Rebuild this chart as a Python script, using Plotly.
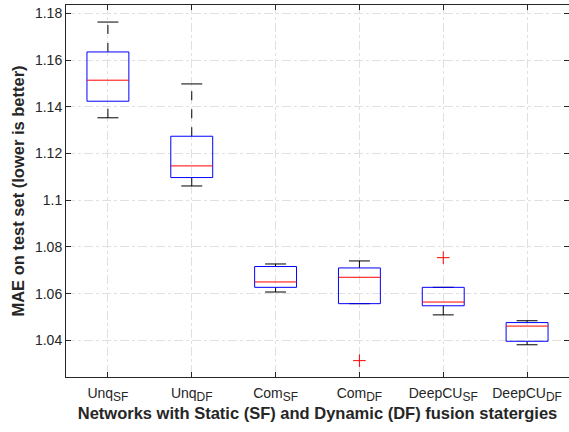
import plotly.graph_objects as go

categories = ["Unq", "Unq", "Com", "Com", "DeepCU", "DeepCU"]
subscripts = ["SF", "DF", "SF", "DF", "SF", "DF"]
lower_whisker = [1.1353, 1.1061, 1.0607, 1.0557, 1.0509, 1.0381]
q1 = [1.1424, 1.1097, 1.0627, 1.0557, 1.0548, 1.0396]
median = [1.1514, 1.1147, 1.0650, 1.0670, 1.0564, 1.0461]
q3 = [1.1635, 1.1274, 1.0716, 1.0710, 1.0627, 1.0476]
upper_whisker = [1.1763, 1.1498, 1.0727, 1.0740, 1.0627, 1.0484]
outlier_pos = [4, 5]
outlier_val = [1.0313, 1.0754]
y_ticks = [1.04, 1.06, 1.08, 1.1, 1.12, 1.14, 1.16, 1.18]
y_tick_labels = ["1.04", "1.06", "1.08", "1.1", "1.12", "1.14", "1.16", "1.18"]

box_half = 0.25
cap_half = 0.125
positions = list(range(1, len(categories) + 1))
tick_text = [f"{c}<sub><span style='font-size:12px'>{s}</span></sub>"
             for c, s in zip(categories, subscripts)]

fig = go.Figure()

# whiskers (dashed)
wx, wy = [], []
for p, lw, a, b, uw in zip(positions, lower_whisker, q1, q3, upper_whisker):
    if uw > b:
        wx += [p, p, None]; wy += [b, uw, None]
    if lw < a:
        wx += [p, p, None]; wy += [lw, a, None]
fig.add_trace(go.Scatter(x=wx, y=wy, mode="lines",
                         line=dict(color="black", width=1, dash="dash"),
                         hoverinfo="skip", showlegend=False))
# caps
cx, cy = [], []
for p, lw, uw in zip(positions, lower_whisker, upper_whisker):
    cx += [p - cap_half, p + cap_half, None, p - cap_half, p + cap_half, None]
    cy += [uw, uw, None, lw, lw, None]
fig.add_trace(go.Scatter(x=cx, y=cy, mode="lines",
                         line=dict(color="black", width=1),
                         hoverinfo="skip", showlegend=False))
# boxes
bx, by = [], []
for p, a, b in zip(positions, q1, q3):
    bx += [p - box_half, p + box_half, p + box_half, p - box_half, p - box_half, None]
    by += [a, a, b, b, a, None]
fig.add_trace(go.Scatter(x=bx, y=by, mode="lines",
                         line=dict(color="#0000ff", width=1),
                         hoverinfo="skip", showlegend=False))
# medians
mx, my = [], []
for p, m in zip(positions, median):
    mx += [p - box_half, p + box_half, None]
    my += [m, m, None]
fig.add_trace(go.Scatter(x=mx, y=my, mode="lines",
                         line=dict(color="#ff0000", width=1),
                         hoverinfo="skip", showlegend=False))
# outliers
fig.add_trace(go.Scatter(x=outlier_pos, y=outlier_val, mode="markers",
                         marker=dict(symbol="cross-thin", size=9,
                                     line=dict(color="#ff0000", width=1)),
                         hoverinfo="skip", showlegend=False))

FONT = "Liberation Sans, Arial, Helvetica"
tick_font = dict(family=FONT, size=14, color="#262626")
title_font = dict(family=FONT, size=16.5, color="#262626")

axis_common = dict(showline=True, linecolor="#262626", linewidth=1, mirror="ticks",
                   ticks="inside", ticklen=5, tickcolor="#262626",
                   showgrid=True, gridcolor="#e0e0e0", griddash="dashdot", gridwidth=1,
                   zeroline=False, automargin=False, tickfont=tick_font)

fig.update_layout(
    width=569, height=432,
    margin=dict(l=66, r=0, t=5, b=55),
    paper_bgcolor="white", plot_bgcolor="white",
    font=dict(family=FONT, size=14, color="#262626"),
    xaxis=dict(range=[0.5, 6.5], tickvals=positions, ticktext=tick_text,
               ticklabelstandoff=3,
               title=dict(text="<b>Networks with Static (SF) and Dynamic (DF) fusion statergies</b>",
                          font=title_font, standoff=0),
               **axis_common),
    yaxis=dict(range=[1.0243, 1.1836], tickvals=y_ticks, ticktext=y_tick_labels,
               title=dict(text="<b>MAE on test set (lower is better)</b>",
                          font=title_font, standoff=6),
               **axis_common),
)

fig.write_html("out.html", config={"displayModeBar": False},
               post_script="document.body.style.margin='0';document.body.style.padding='0';")
